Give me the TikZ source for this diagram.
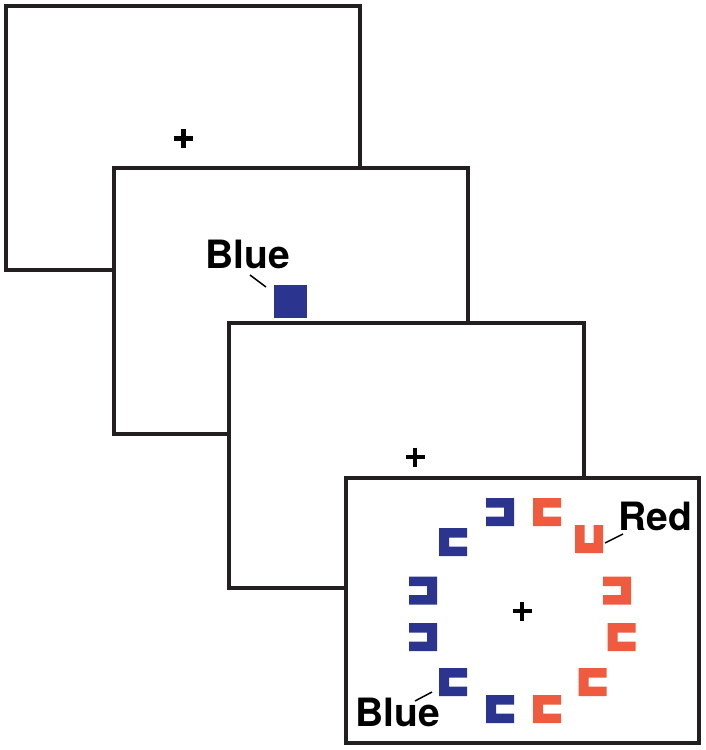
\documentclass[tikz,border=0pt]{standalone}
\usepackage{fontspec}
\setmainfont{TeX Gyre Heros}
\definecolor{cblue}{HTML}{2B3590}
\definecolor{cred}{HTML}{F05A3E}
\definecolor{frameblk}{HTML}{231F20}
\tikzset{
  screen/.style={draw=frameblk, line width=3.5pt, fill=white},
  lbl/.style={font=\bfseries\fontsize{39}{44}\selectfont, inner sep=0pt, anchor=base},
  leader/.style={draw=black, line width=1.5pt},
  fixcross/.style={line width=4.5pt, draw=black},
  pics/cshape/.style={code={
    \fill (14,14) -- (-14,14) -- (-14,-14) -- (14,-14) -- (14,-4.5) -- (-4,-4.5) -- (-4,4.5) -- (14,4.5) -- cycle;
  }}
}
\begin{document}
\begin{tikzpicture}[x=1pt,y=-1pt]
\useasboundingbox (0,0) rectangle (706,750);
% screens
\path[screen] (6,6) rectangle (360,270);
\draw[fixcross] (174,138.5) -- (193,138.5) (183.5,129) -- (183.5,148);
\path[screen] (114,168) rectangle (468,434);
\fill[cblue] (274,285) rectangle (307,318);
\node[lbl] (blueA) at (248,268) {Blue};
\coordinate (blueAend) at (266,287);
\draw[leader] (250,275) -- (blueAend);
\path[screen] (229,323) rectangle (584,588);
\draw[fixcross] (405.5,457) -- (424.5,457) (415,447.5) -- (415,466.5);
\path[screen] (346,478) rectangle (699,743);
\draw[fixcross] (512.5,611) -- (531.5,611) (522,601.5) -- (522,620.5);
% blue items
\begin{scope}[cblue]
\pic[rotate=180] (b1) at (500,512) {cshape};
\pic (b2) at (453,542) {cshape};
\pic[rotate=180] (b3) at (423,590.5) {cshape};
\pic[rotate=180] (b4) at (423,637) {cshape};
\pic (b5) at (453,682) {cshape};
\pic (b6) at (500,709) {cshape};
\end{scope}
\begin{scope}[cred]
\pic (r1) at (547,512) {cshape};
\pic[rotate=90] (r2) at (589,539) {cshape};
\pic[rotate=180] (r3) at (617,590.5) {cshape};
\pic (r4) at (621.5,637) {cshape};
\pic (r5) at (592.5,682) {cshape};
\pic (r6) at (547,709) {cshape};
\end{scope}
\node[lbl] (redL) at (655,530) {Red};
\draw[leader] (605,543) -- (623,534);
\node[lbl] (blueB) at (398,726) {Blue};
\draw[leader] (415,701) -- (432,692);
\end{tikzpicture}
\end{document}
